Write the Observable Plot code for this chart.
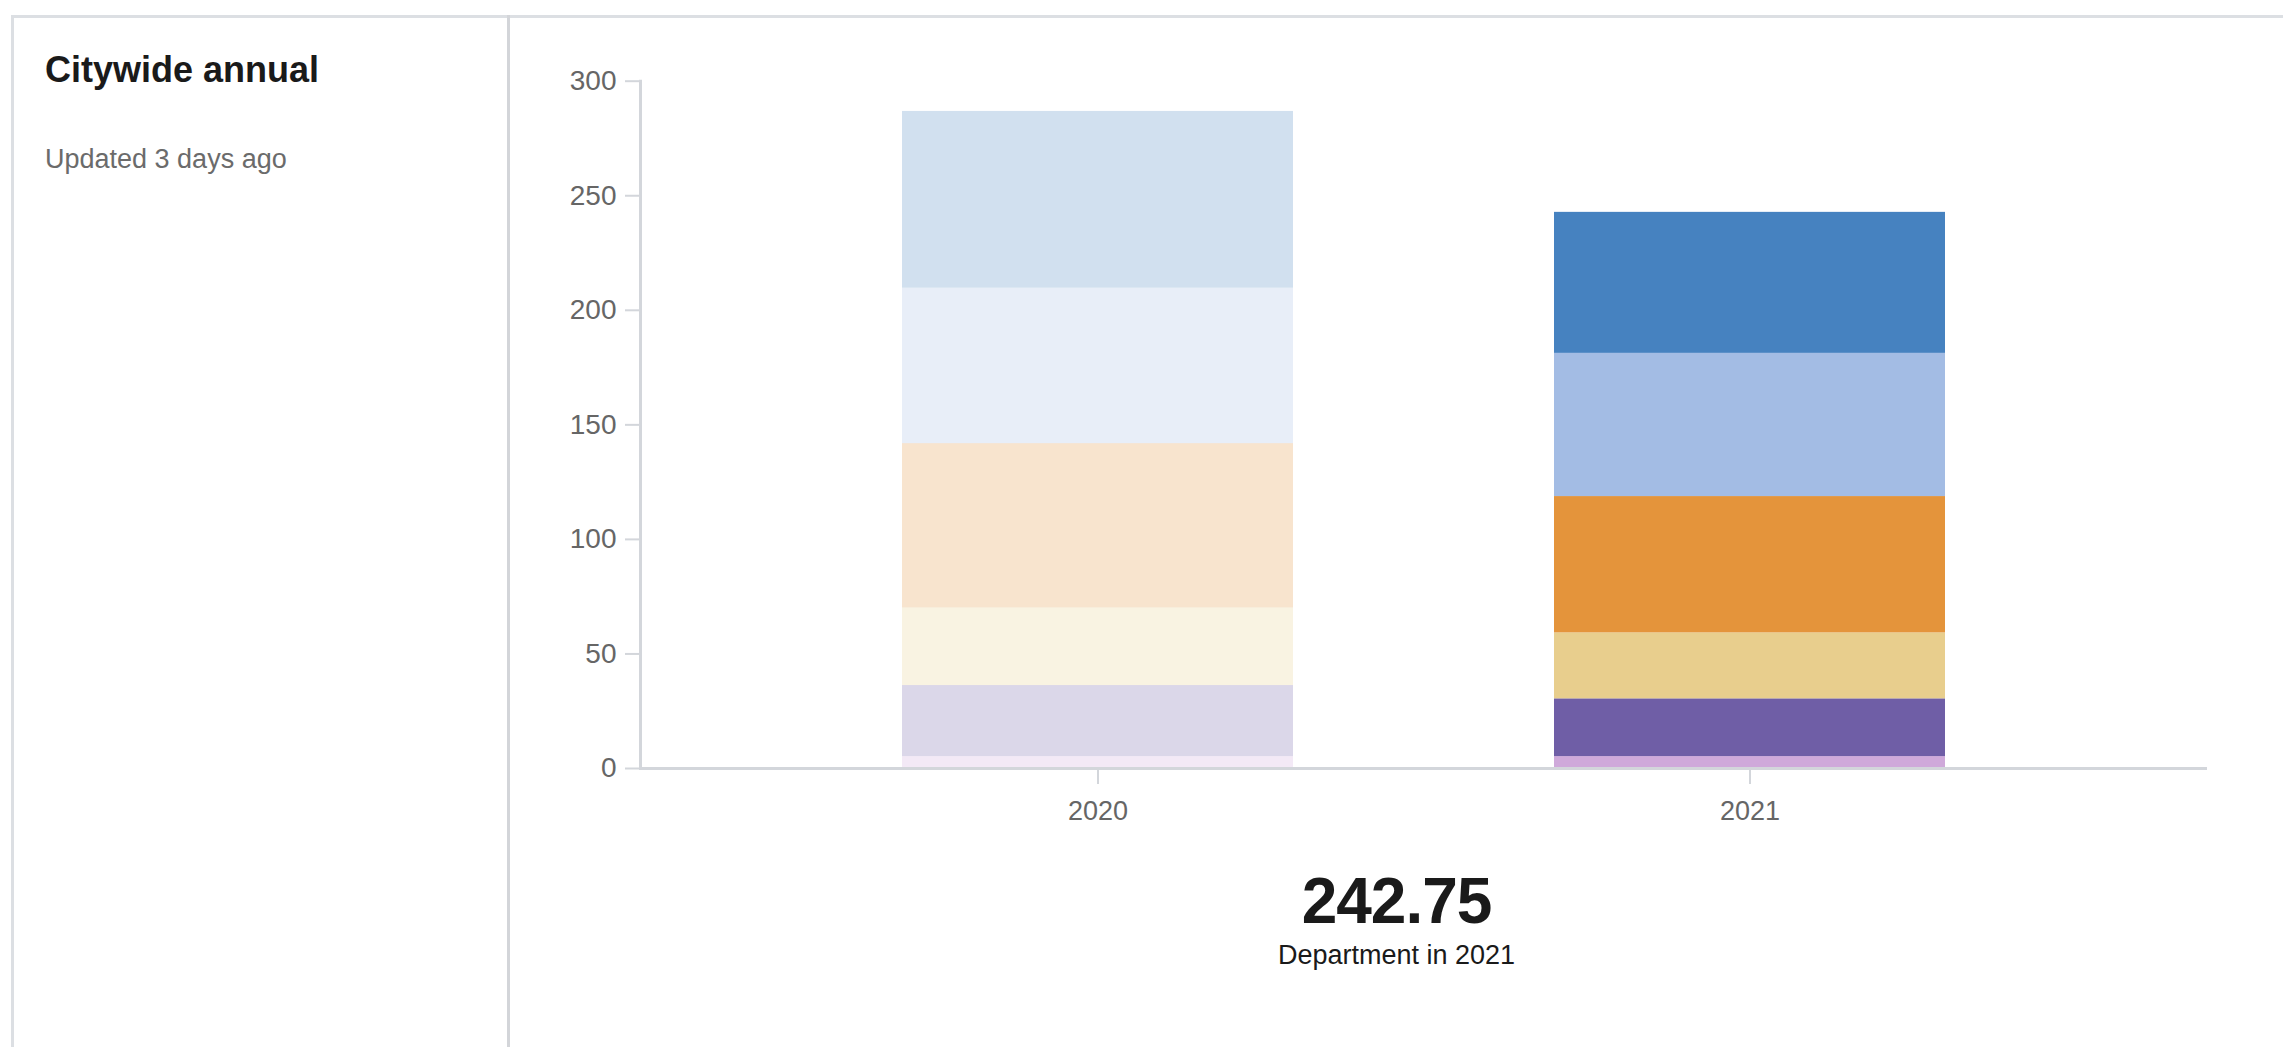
<!DOCTYPE html>
<html>
<head>
<meta charset="utf-8">
<script src="https://cdn.jsdelivr.net/npm/d3@7"></script>
<script src="https://cdn.jsdelivr.net/npm/@observablehq/plot@0.6"></script>
<style>
  html, body { margin:0; padding:0; background:#fff; width:2283px; height:1047px; overflow:hidden;
    font-family:"Liberation Sans", Arial, Helvetica, sans-serif; }
  #card { position:absolute; left:11px; top:15px; width:2400px; height:1200px;
    border:3px solid #dcdfe3; box-sizing:border-box; }
  #divider { position:absolute; left:507px; top:15px; width:3px; height:1100px; background:#d3d5d9; }
  .txt { position:absolute; line-height:1; white-space:nowrap; }
  #title { left:45px; top:52px; font-size:36px; font-weight:700; color:#1a1a1a; }
  #subtitle { left:45px; top:146px; font-size:27px; color:#6b6b6b; }
  #chart { position:absolute; left:510px; top:20px; }
  #big { left:510px; width:1773px; text-align:center; top:869px; font-size:64px; font-weight:700;
    color:#1a1a1a; letter-spacing:-1px; }
  #cap { left:510px; width:1773px; text-align:center; top:942px; font-size:27px; color:#1a1a1a; }
</style>
</head>
<body>
<div id="card"></div>
<div id="divider"></div>
<div class="txt" id="title"></div>
<div class="txt" id="subtitle"></div>
<div id="chart"></div>
<div class="txt" id="big"></div>
<div class="txt" id="cap"></div>
<script>
// ---- data ----
const titleText = "Citywide annual";
const subtitleText = "Updated 3 days ago";
const years = ["2020", "2021"];
const yearOpacity = [0.25, 1];
// stack segments, bottom to top
const categories = ["Category 1", "Category 2", "Category 3", "Category 4", "Category 5", "Category 6"];
const colors = ["#cfa9da", "#6f5ea6", "#e8ce8d", "#e4943b", "#a3bce4", "#4682c0"];
const values2020 = [5.2, 31.0, 33.9, 71.7, 67.9, 77.1];
const values2021 = [5.2, 25.2, 28.8, 59.5, 62.5, 61.55];
const yTicks = [0, 50, 100, 150, 200, 250, 300];
const headlineValue = "242.75";
const headlineCaption = "Department in 2021";

document.getElementById("title").textContent = titleText;
document.getElementById("subtitle").textContent = subtitleText;
document.getElementById("big").textContent = headlineValue;
document.getElementById("cap").textContent = headlineCaption;

const seriesValues = [values2020, values2021];
const rows = [];
years.forEach((yr, i) => {
  categories.forEach((c, j) => rows.push({year: yr, category: c, value: seriesValues[i][j]}));
});

const axisGray = "#d3d6db";
const textGray = "#666666";

const chart = Plot.plot({
  width: 1773,
  height: 820,
  marginLeft: 130,
  marginRight: 76,
  marginTop: 60.7,
  marginBottom: 72,
  style: {fontFamily: '"Liberation Sans", Arial, sans-serif', background: "transparent"},
  x: {domain: years, padding: 0.4, label: null},
  y: {domain: [0, 300], label: null},
  color: {domain: categories, range: colors},
  marks: [
    ...years.map((yr, i) => Plot.barY(rows.filter(d => d.year === yr), {
      x: "year", y: "value", fill: "category", fillOpacity: yearOpacity[i]
    })),
    Plot.axisY({ticks: yTicks, tickSize: 15, tickPadding: 9, fontSize: 28, fill: textGray,
      stroke: axisGray, strokeWidth: 2, label: null}),
    Plot.axisX({tickSize: 16, tickPadding: 16, fontSize: 27, fill: textGray,
      stroke: axisGray, strokeWidth: 2, label: null}),
    Plot.frame({anchor: "left", stroke: axisGray, strokeWidth: 3}),
    Plot.ruleY([0], {stroke: axisGray, strokeWidth: 3})
  ]
});
document.getElementById("chart").appendChild(chart);
</script>
</body>
</html>
